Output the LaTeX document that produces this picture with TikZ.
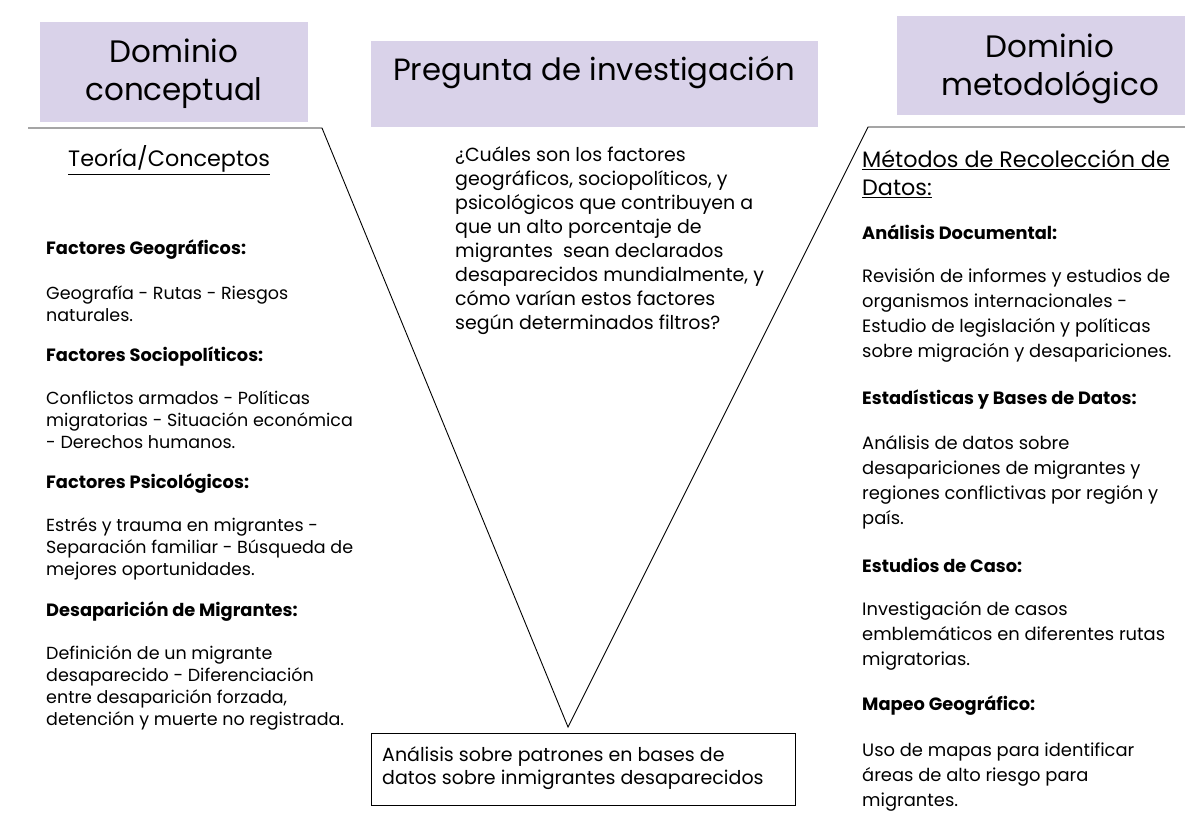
\documentclass[tikz,border=0pt]{standalone}
\usepackage{fontspec}
\setmainfont{Poppins}
\definecolor{lav}{HTML}{D9D2E9}
\begin{document}
\begin{tikzpicture}[x=1pt,y=-1pt,
  hdr/.style={fill=lav, draw=none, inner sep=0pt},
  hdrtext/.style={align=center, inner sep=0pt, font=\fontsize{31}{38}\selectfont},
  subtitle/.style={anchor=west, align=left, inner sep=0pt, font=\fontsize{22.3}{28}\selectfont},
  lbody/.style={anchor=west, align=left, inner sep=0pt, font=\fontsize{17.5}{22}\selectfont},
  rbody/.style={anchor=west, align=left, inner sep=0pt, font=\fontsize{17.9}{25}\selectfont},
  lhead/.style={anchor=west, inner sep=0pt, font=\fontsize{17.8}{20}\selectfont\bfseries},
  qtext/.style={anchor=north west, align=left, inner sep=0pt, font=\fontsize{19}{24}\selectfont},
  vline/.style={draw=black, line width=0.9pt}]
\useasboundingbox (0,0) rectangle (1185,815);
\fill[white] (0,0) rectangle (1185,815);

% header boxes
\node[hdr, minimum width=268pt, minimum height=100pt] (lbox) at (174,72) {};
\node[hdrtext] (ltxt) at (174,74) {Dominio\\conceptual};
\node[hdr, minimum width=447pt, minimum height=86pt] (cbox) at (594.5,84) {};
\node[hdrtext, font=\fontsize{30.7}{36}\selectfont] (ctxt) at (594,73) {Pregunta de investigación};
\node[hdr, minimum width=288pt, minimum height=99pt] (rbox) at (1041,65.5) {};
\node[hdrtext] (rtxt) at (1050,68.5) {Dominio\\metodológico};

% V lines
\coordinate (l0) at (28,128);
\coordinate (l1) at (322,128);
\coordinate (apex) at (568,727);
\coordinate (r1) at (868,127);
\coordinate (r0) at (1185,127);
\draw[vline] (l0) -- (l1) -- (apex) -- (r1) -- (r0);

% left column
\node[subtitle] (teo) at (68,160) {\underline{Teoría/Conceptos}};
\node[lhead] (h1) at (46,250) {Factores Geográficos:};
\node[lbody] (b1) at (46,304) {Geografía - Rutas - Riesgos\\naturales.};
\node[lhead] (h2) at (46,356) {Factores Sociopolíticos:};
\node[lbody] (b2) at (46,420) {Conflictos armados - Políticas\\migratorias - Situación económica\\- Derechos humanos.};
\node[lhead] (h3) at (46,484) {Factores Psicológicos:};
\node[lbody] (b3) at (46,548.5) {Estrés y trauma en migrantes -\\Separación familiar - Búsqueda de\\mejores oportunidades.};
\node[lhead] (h4) at (46,612) {Desaparición de Migrantes:};
\node[lbody] (b4) at (46,687.5) {Definición de un migrante\\desaparecido - Diferenciación\\entre desaparición forzada,\\detención y muerte no registrada.};

% center question
\node[qtext] (q) at (455,146) {¿Cuáles son los factores\\geográficos, sociopolíticos, y\\psicológicos que contribuyen a\\que un alto porcentaje de\\migrantes\ \ sean declarados\\desaparecidos mundialmente, y\\cómo varían estos factores\\según determinados filtros?};

% right column
\node[subtitle] (met) at (862,174) {\underline{Métodos de Recolección de}\\\underline{Datos:}};
\node[lhead] (r1h) at (862,232) {Análisis Documental:};
\node[rbody] (r1b) at (862,315.5) {Revisión de informes y estudios de\\organismos internacionales -\\Estudio de legislación y políticas\\sobre migración y desapariciones.};
\node[lhead] (r2h) at (862,399) {Estadísticas y Bases de Datos:};
\node[rbody] (r2b) at (862,482) {Análisis de datos sobre\\desapariciones de migrantes y\\regiones conflictivas por región y\\país.};
\node[lhead] (r3h) at (862,565) {Estudios de Caso:};
\node[rbody] (r3b) at (862,636) {Investigación de casos\\emblemáticos en diferentes rutas\\migratorias.};
\node[lhead] (r4h) at (862,706) {Mapeo Geográfico:};
\node[rbody] (r4b) at (862,777) {Uso de mapas para identificar\\áreas de alto riesgo para\\migrantes.};

% bottom box
\node[draw=black, line width=0.9pt, minimum width=424pt, minimum height=72pt, inner sep=0pt] (bot) at (583,769) {};
\node[anchor=west, align=left, inner sep=0pt, font=\fontsize{19}{23}\selectfont] (bott) at (382,768.5) {Análisis sobre patrones en bases de\\datos sobre inmigrantes desaparecidos};
\end{tikzpicture}
\end{document}
